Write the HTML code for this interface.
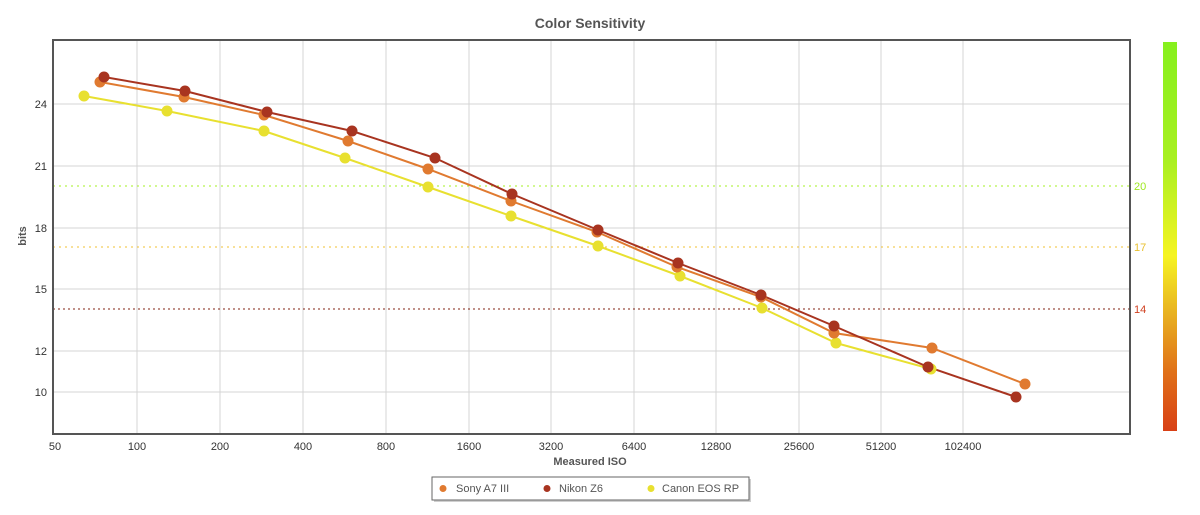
<!DOCTYPE html>
<html><head><meta charset="utf-8"><style>
body{margin:0;background:#fff;}
svg{display:block;font-family:"Liberation Sans","DejaVu Sans",sans-serif;}
</style></head><body>
<svg width="1200" height="515" viewBox="0 0 1200 515" xmlns="http://www.w3.org/2000/svg">
<defs>
<linearGradient id="cb" x1="0" y1="0" x2="0" y2="1">
<stop offset="0" stop-color="#86f01e"/>
<stop offset="0.3" stop-color="#a8f020"/>
<stop offset="0.55" stop-color="#f6f420"/>
<stop offset="0.7" stop-color="#e8b020"/>
<stop offset="0.85" stop-color="#e07018"/>
<stop offset="1" stop-color="#d84016"/>
</linearGradient>
</defs>
<text x="590" y="28" text-anchor="middle" font-size="14" font-weight="bold" fill="#555">Color Sensitivity</text>
<g stroke="#d4d4d4" stroke-width="1">
<line x1="137" y1="40" x2="137" y2="434"/><line x1="220" y1="40" x2="220" y2="434"/>
<line x1="303" y1="40" x2="303" y2="434"/><line x1="386" y1="40" x2="386" y2="434"/>
<line x1="469" y1="40" x2="469" y2="434"/><line x1="551" y1="40" x2="551" y2="434"/>
<line x1="634" y1="40" x2="634" y2="434"/><line x1="716" y1="40" x2="716" y2="434"/>
<line x1="799" y1="40" x2="799" y2="434"/><line x1="881" y1="40" x2="881" y2="434"/>
<line x1="963" y1="40" x2="963" y2="434"/>
<line x1="53" y1="104" x2="1130" y2="104"/><line x1="53" y1="166" x2="1130" y2="166"/>
<line x1="53" y1="228" x2="1130" y2="228"/><line x1="53" y1="289" x2="1130" y2="289"/>
<line x1="53" y1="351" x2="1130" y2="351"/><line x1="53" y1="392" x2="1130" y2="392"/>
</g>
<line x1="53" y1="186" x2="1130" y2="186" stroke="#a6f020" stroke-dasharray="2,4"/>
<line x1="53" y1="247" x2="1130" y2="247" stroke="#f0c030" stroke-dasharray="2,4"/>
<line x1="53" y1="309" x2="1130" y2="309" stroke="#802010" stroke-dasharray="2,3"/>
<text x="1134" y="190" font-size="11" fill="#9ee820">20</text>
<text x="1134" y="251" font-size="11" fill="#e8c030">17</text>
<text x="1134" y="313" font-size="11" fill="#d04020">14</text>
<rect x="53" y="40" width="1077" height="394" fill="none" stroke="#555" stroke-width="2"/>
<g font-size="11" fill="#333" text-anchor="end">
<text x="47" y="108">24</text><text x="47" y="170">21</text><text x="47" y="232">18</text>
<text x="47" y="293">15</text><text x="47" y="355">12</text><text x="47" y="396">10</text>
</g>
<g font-size="11" fill="#333" text-anchor="middle">
<text x="55" y="450">50</text><text x="137" y="450">100</text><text x="220" y="450">200</text>
<text x="303" y="450">400</text><text x="386" y="450">800</text><text x="469" y="450">1600</text>
<text x="551" y="450">3200</text><text x="634" y="450">6400</text><text x="716" y="450">12800</text>
<text x="799" y="450">25600</text><text x="881" y="450">51200</text><text x="963" y="450">102400</text>
</g>
<text x="590" y="465" text-anchor="middle" font-size="11" font-weight="bold" fill="#555">Measured ISO</text>
<text transform="translate(26,236) rotate(-90)" text-anchor="middle" font-size="11" font-weight="bold" fill="#555">bits</text>
<rect x="1163" y="42" width="14" height="389" fill="url(#cb)"/>
<g fill="none" stroke-width="2">
<polyline stroke="#e8e030" points="84,96 167,111 264,131 345,158 428,187 511,216 598,246 680,276 762,308 836,343 931,369"/>
<polyline stroke="#e07a30" points="100,82 184,97 264,115 348,141 428,169 511,201 597,232 677,267 761,297 834,333 932,348 1025,384"/>
<polyline stroke="#a83420" points="104,77 185,91 267,112 352,131 435,158 512,194 598,230 678,263 761,295 834,326 928,367 1016,397"/>
</g>
<g fill="#e8e030">
<circle cx="84" cy="96" r="5.5"/><circle cx="167" cy="111" r="5.5"/><circle cx="264" cy="131" r="5.5"/><circle cx="345" cy="158" r="5.5"/><circle cx="428" cy="187" r="5.5"/><circle cx="511" cy="216" r="5.5"/><circle cx="598" cy="246" r="5.5"/><circle cx="680" cy="276" r="5.5"/><circle cx="762" cy="308" r="5.5"/><circle cx="836" cy="343" r="5.5"/><circle cx="931" cy="369" r="5.5"/>
</g>
<g fill="#e07a30">
<circle cx="100" cy="82" r="5.5"/><circle cx="184" cy="97" r="5.5"/><circle cx="264" cy="115" r="5.5"/><circle cx="348" cy="141" r="5.5"/><circle cx="428" cy="169" r="5.5"/><circle cx="511" cy="201" r="5.5"/><circle cx="597" cy="232" r="5.5"/><circle cx="677" cy="267" r="5.5"/><circle cx="761" cy="297" r="5.5"/><circle cx="834" cy="333" r="5.5"/><circle cx="932" cy="348" r="5.5"/><circle cx="1025" cy="384" r="5.5"/>
</g>
<g fill="#a83420">
<circle cx="104" cy="77" r="5.5"/><circle cx="185" cy="91" r="5.5"/><circle cx="267" cy="112" r="5.5"/><circle cx="352" cy="131" r="5.5"/><circle cx="435" cy="158" r="5.5"/><circle cx="512" cy="194" r="5.5"/><circle cx="598" cy="230" r="5.5"/><circle cx="678" cy="263" r="5.5"/><circle cx="761" cy="295" r="5.5"/><circle cx="834" cy="326" r="5.5"/><circle cx="928" cy="367" r="5.5"/><circle cx="1016" cy="397" r="5.5"/>
</g>
<rect x="434" y="479" width="317" height="23" fill="#888" opacity="0.4"/>
<rect x="432" y="477" width="317" height="23" fill="#fff" stroke="#666" stroke-width="1"/>
<g font-size="11" fill="#555">
<circle cx="443" cy="488.5" r="3.5" fill="#e07a30"/><text x="456" y="492">Sony A7 III</text>
<circle cx="547" cy="488.5" r="3.5" fill="#a83420"/><text x="559" y="492">Nikon Z6</text>
<circle cx="651" cy="488.5" r="3.5" fill="#e8e030"/><text x="662" y="492">Canon EOS RP</text>
</g>
</svg>
</body></html>
